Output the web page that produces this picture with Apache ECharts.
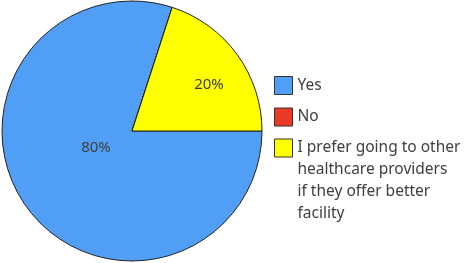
<!DOCTYPE html>
<html><head><meta charset="utf-8">
<script src="https://cdn.jsdelivr.net/npm/echarts@6/dist/echarts.min.js"></script>
<style>html,body{margin:0;padding:0;background:#fff}#c{width:467px;height:263px}</style>
</head><body><div id="c"></div>
<script>
const categories = ['Yes', 'No', 'I prefer going to other healthcare providers if they offer better facility'];
const values = [80, 0, 20];
const legendLabels = ['Yes', 'No', 'I prefer going to other\nhealthcare providers\nif they offer better\nfacility'];
const colors = ['#509EF6', '#EB3A26', '#FFFF00'];

const chart = echarts.init(document.getElementById('c'), null, {renderer: 'canvas'});
const labelShift = [[19, -23], [0, 0], [22, -6]];
const legendCommon = {
  orient: 'vertical',
  left: 269,
  height: 400,
  itemWidth: 18,
  itemHeight: 18,
  itemGap: 9.5,
  icon: 'rect',
  selectedMode: false,
  itemStyle: {borderColor: '#333', borderWidth: 1},
  textStyle: {fontFamily: 'Noto Sans', fontSize: 15.5, color: '#404040', lineHeight: 22}
};
chart.setOption({
  animation: false,
  color: colors,
  legend: [
    Object.assign({}, legendCommon, {
      top: 69.5,
      data: categories.slice(0, 2),
      formatter: function (name) { return legendLabels[categories.indexOf(name)]; }
    }),
    Object.assign({}, legendCommon, {
      top: 66,
      data: categories.slice(2),
      // leading blank lines keep the first text line level with the icon
      formatter: function (name) { return '\n\n\n' + legendLabels[categories.indexOf(name)]; }
    })
  ],
  series: [{
    type: 'pie',
    center: [132, 131],
    radius: 130,
    startAngle: 0,
    clockwise: true,
    avoidLabelOverlap: false,
    itemStyle: {borderColor: '#222', borderWidth: 1},
    label: {
      position: 'inside',
      fontFamily: 'Noto Sans',
      fontSize: 15,
      color: '#404040',
      formatter: function (p) { return p.value ? Math.round(p.percent) + '%' : ''; }
    },
    labelLayout: function (p) { return {dx: labelShift[p.dataIndex][0], dy: labelShift[p.dataIndex][1]}; },
    emphasis: {disabled: true},
    data: categories.map((c, i) => ({name: c, value: values[i]}))
  }]
});
</script></body></html>
